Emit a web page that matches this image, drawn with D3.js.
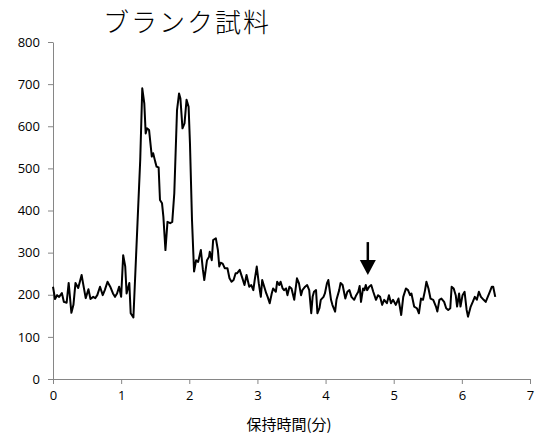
<!DOCTYPE html>
<html><head><meta charset="utf-8">
<script src="https://cdn.jsdelivr.net/npm/d3@7"></script>
<style>body{margin:0;background:#fff}svg{display:block}</style>
</head><body><svg id="c" width="539" height="439"></svg>
<script>
const title = "ブランク試料";
const xLabel = "保持時間(分)";
const xTicks = [0,1,2,3,4,5,6,7];
const yTicks = [0,100,200,300,400,500,600,700,800];
const times = [0.00,0.03,0.06,0.09,0.13,0.16,0.20,0.23,0.27,0.30,0.33,0.37,0.42,0.44,0.48,0.52,0.55,0.59,0.62,0.65,0.69,0.73,0.76,0.80,0.84,0.88,0.91,0.94,0.97,1.00,1.03,1.06,1.08,1.12,1.14,1.18,1.24,1.28,1.31,1.34,1.36,1.38,1.41,1.45,1.47,1.50,1.52,1.55,1.57,1.60,1.62,1.65,1.68,1.72,1.75,1.78,1.82,1.85,1.87,1.90,1.93,1.96,1.99,2.01,2.04,
2.07,2.10,2.13,2.17,2.20,2.22,2.26,2.29,2.30,2.33,2.35,2.39,2.42,2.44,2.46,2.49,2.52,2.56,2.59,2.62,2.65,2.68,2.70,2.74,2.78,2.81,2.84,2.88,2.91,2.94,2.96,2.99,3.02,3.05,3.07,3.10,3.13,3.15,3.18,3.21,3.23,3.27,3.29,3.32,3.34,3.37,3.39,3.42,3.44,3.47,3.50,3.54,3.58,3.61,3.64,3.66,3.70,3.73,3.76,3.79,3.81,3.83,3.86,3.88,3.91,3.93,3.97,3.99,4.02,4.04,4.08,4.10,4.14,4.16,4.20,4.22,4.25,4.29,4.32,4.35,4.38,4.42,4.45,4.48,
4.50,4.52,4.55,4.57,4.59,4.61,4.64,4.67,4.70,4.74,4.77,4.80,4.83,4.86,4.90,4.93,4.96,4.99,5.03,5.07,5.11,5.14,5.18,5.21,5.24,5.26,5.30,5.34,5.37,5.40,5.43,5.46,5.48,5.51,5.54,5.58,5.62,5.64,5.67,5.70,5.74,5.77,5.80,5.83,5.85,5.88,5.91,5.93,5.96,5.98,6.01,6.04,6.07,6.09,6.13,6.16,6.19,6.22,6.25,6.28,6.32,6.35,6.38,6.41,6.44,6.46,6.49];
const signal = [219,190,199,195,204,183,181,228,157,176,228,216,247,228,192,213,190,195,192,199,219,199,211,231,219,203,195,203,219,195,294,267,203,228,156,146,370,520,690,654,583,595,591,528,536,516,504,502,425,417,385,306,373,370,373,441,638,678,666,595,607,663,646,559,377,
255,282,278,306,259,235,282,290,302,282,330,334,306,267,276,274,263,263,239,231,235,251,251,259,239,223,247,219,223,211,235,267,227,195,235,219,203,195,180,203,215,207,231,223,231,215,211,215,199,219,215,188,239,227,199,211,219,223,211,156,195,207,211,156,168,188,195,203,227,235,188,176,160,188,211,228,223,191,207,211,195,188,199,207,
221,183,215,211,223,211,219,223,207,188,199,195,176,188,180,199,180,188,176,191,152,195,215,211,199,203,172,168,156,191,188,211,231,215,191,188,172,160,188,191,183,168,164,168,219,215,199,172,203,172,199,207,164,148,172,183,195,188,207,195,188,183,195,207,219,219,195];
const arrowT = 4.62, arrowFrom = 325, arrowTo = 247;

const svg = d3.select("#c");
const x = d3.scaleLinear().domain([0,7]).range([53,530]);
const y = d3.scaleLinear().domain([0,800]).range([379,42]);
const axisColor = "#868686";
const font = "'Open Sans', 'Liberation Sans', sans-serif";

const gx = svg.append("g").attr("transform","translate(0,379)")
  .call(d3.axisBottom(x).tickValues(xTicks).tickSize(5).tickSizeOuter(0).tickFormat(d3.format("d")));
const gy = svg.append("g").attr("transform","translate(53,0)")
  .call(d3.axisLeft(y).tickValues(yTicks).tickSize(5).tickSizeOuter(0).tickFormat(d3.format("d")));
[gx,gy].forEach(g=>{
  g.selectAll("path,line").attr("stroke",axisColor).attr("stroke-width",1);
  g.selectAll("text").attr("fill","#000").style("font-family",font).style("font-size","13px");
});
gx.selectAll("text").attr("dy","1em").attr("y",8);
gy.selectAll("text").attr("x",-13);

const pts = times.map((t,i)=>[t,signal[i]]);
svg.append("path").datum(pts)
  .attr("fill","none").attr("stroke","#000").attr("stroke-width",2).attr("stroke-linejoin","round")
  .attr("d", d3.line().x(d=>x(d[0])).y(d=>y(d[1])));

// arrow
const ax = x(arrowT), ay1 = y(arrowFrom), ay2 = y(arrowTo);
svg.append("line").attr("x1",ax).attr("x2",ax).attr("y1",ay1).attr("y2",ay2-12)
  .attr("stroke","#000").attr("stroke-width",2.5);
svg.append("path").attr("d",`M${ax-8},${ay2-15}L${ax+8},${ay2-15}L${ax},${ay2}Z`).attr("fill","#000");

svg.append("text").attr("x",187).attr("y",32).attr("text-anchor","middle")
  .style("font-family","'Noto Sans CJK JP', serif").style("font-size","26px").style("font-weight","300")
  .style("letter-spacing","2px")
  .text(title);
svg.append("text").attr("x",289).attr("y",430).attr("text-anchor","middle")
  .style("font-family","'Noto Sans CJK JP', sans-serif").style("font-size","15px")
  .text(xLabel);
</script></body></html>
